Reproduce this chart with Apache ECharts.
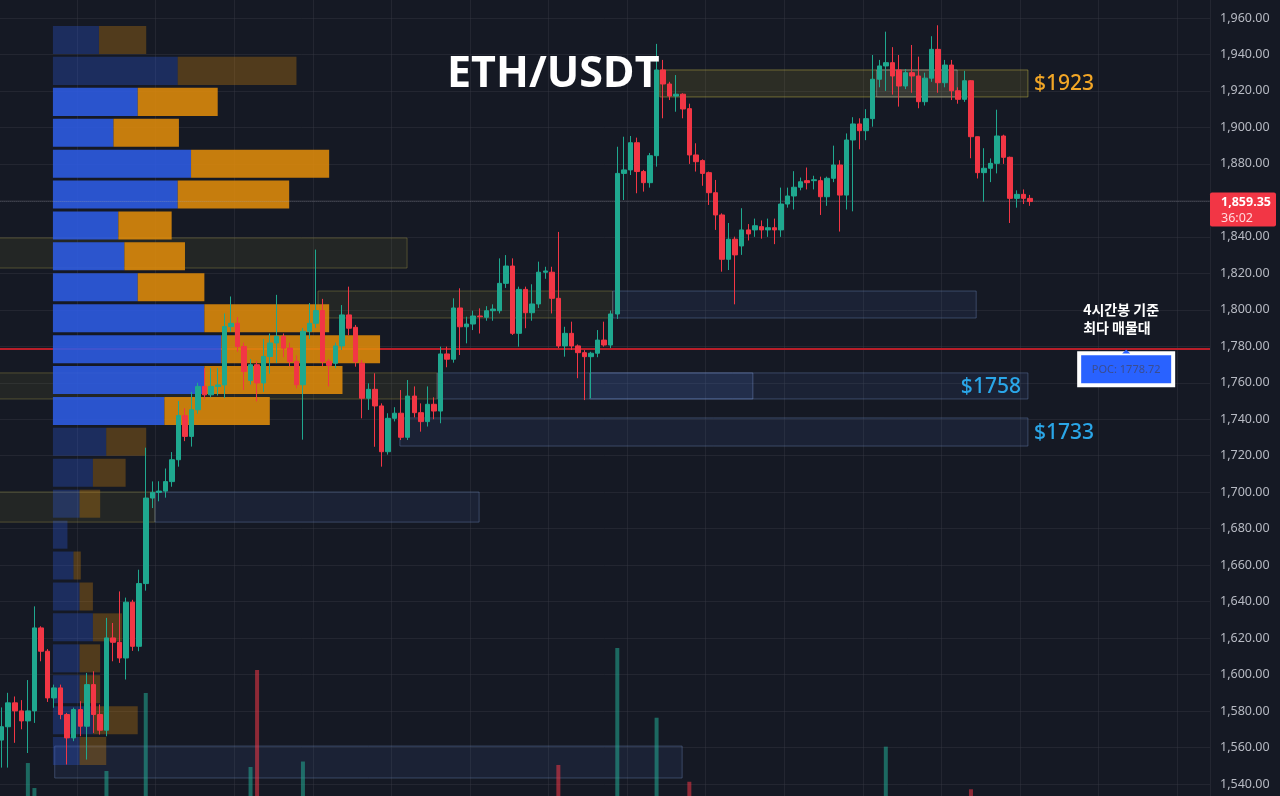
<!DOCTYPE html>
<html>
<head>
<meta charset="utf-8">
<title>ETH/USDT</title>
<script src="https://cdn.jsdelivr.net/npm/echarts/dist/echarts.min.js"></script>
<style>
html, body { margin: 0; padding: 0; background: #151924; }
#chart { width: 1280px; height: 796px; }
</style>
</head>
<body>
<div id="chart"></div>
<script>
// candles (oldest first)
var opens = [
  1564.1, 1571.4, 1584.5, 1580.1, 1574.6, 1580.1, 1625.6, 1612.8, 1587.2, 1592.7,
  1578.1, 1565.3, 1580.8, 1571.7, 1594.5, 1578.1, 1569.5, 1620.1, 1617.7, 1609.1,
  1639.7, 1615.5, 1649.9, 1696.8, 1699.9, 1700.6, 1705.8, 1717.8, 1742.0, 1730.6,
  1745.2, 1758.0, 1753.4, 1758.0, 1758.8, 1790.8, 1792.6, 1779.9, 1761.3, 1769.9,
  1759.9, 1774.4, 1781.8, 1785.4, 1779.0, 1771.7, 1758.9, 1788.2, 1792.6, 1799.6,
  1771.7, 1770.7, 1780.2, 1797.2, 1790.4, 1770.7, 1751.5, 1756.4, 1747.3, 1722.2,
  1740.5, 1743.3, 1730.1, 1752.7, 1743.6, 1738.7, 1748.2, 1744.5, 1775.8, 1772.9,
  1801.0, 1790.7, 1792.2, 1796.6, 1795.9, 1799.5, 1799.5, 1814.5, 1824.0, 1787.1,
  1811.2, 1798.4, 1803.2, 1820.6, 1820.6, 1806.3, 1780.2, 1787.1, 1780.2, 1776.5,
  1774.3, 1776.2, 1783.4, 1780.7, 1797.7, 1874.8, 1876.7, 1891.6, 1875.8, 1869.7,
  1884.5, 1931.5, 1923.8, 1917.2, 1918.2, 1910.3, 1884.9, 1881.8, 1875.2, 1864.2,
  1852.0, 1827.7, 1838.7, 1835.0, 1843.8, 1843.8, 1845.6, 1843.8, 1845.0, 1843.8,
  1858.0, 1862.4, 1867.2, 1870.8, 1870.8, 1870.8, 1862.0, 1872.1, 1879.4, 1862.9,
  1893.1, 1901.9, 1898.2, 1904.8, 1926.4, 1933.7, 1935.5, 1931.5, 1922.7, 1930.0,
  1928.2, 1914.1, 1927.0, 1942.8, 1924.5, 1934.2, 1920.1, 1915.4, 1925.6, 1894.9,
  1875.2, 1877.6, 1880.3, 1895.3, 1883.6, 1861.1, 1863.3, 1861.1
];
var closes = [
  1571.4, 1584.5, 1580.1, 1574.6, 1580.1, 1625.6, 1612.8, 1587.2, 1592.7, 1578.1,
  1565.3, 1580.8, 1571.7, 1594.5, 1578.1, 1569.5, 1620.1, 1617.7, 1609.1, 1639.7,
  1615.5, 1649.9, 1696.8, 1699.9, 1700.6, 1705.8, 1717.8, 1742.0, 1730.6, 1745.2,
  1758.0, 1753.4, 1758.0, 1758.8, 1790.8, 1792.6, 1779.9, 1766.2, 1769.9, 1759.9,
  1774.4, 1781.8, 1785.4, 1779.0, 1771.7, 1758.9, 1788.2, 1792.6, 1799.6, 1771.7,
  1769.5, 1780.2, 1797.2, 1789.9, 1771.5, 1751.5, 1756.4, 1747.3, 1722.2, 1740.5,
  1743.3, 1730.1, 1752.7, 1743.6, 1738.7, 1748.2, 1744.5, 1775.8, 1772.9, 1801.0,
  1790.7, 1792.2, 1796.6, 1796.2, 1799.5, 1800.4, 1814.5, 1824.0, 1787.1, 1811.2,
  1798.4, 1803.2, 1820.6, 1821.3, 1806.3, 1780.2, 1787.1, 1780.2, 1776.5, 1774.3,
  1776.2, 1783.4, 1780.7, 1797.7, 1874.8, 1876.7, 1891.6, 1875.8, 1869.7, 1884.5,
  1931.5, 1923.8, 1917.2, 1918.2, 1910.1, 1884.9, 1881.2, 1874.8, 1864.2, 1852.0,
  1827.7, 1838.7, 1830.1, 1843.8, 1841.6, 1846.1, 1843.8, 1845.0, 1843.8, 1858.0,
  1862.4, 1867.2, 1870.2, 1869.7, 1871.3, 1862.0, 1872.1, 1879.4, 1862.9, 1893.1,
  1901.9, 1898.2, 1904.8, 1926.4, 1933.7, 1935.5, 1928.2, 1922.7, 1930.0, 1928.2,
  1914.1, 1927.0, 1942.8, 1924.5, 1934.2, 1920.1, 1915.4, 1925.6, 1894.9, 1875.2,
  1877.6, 1880.3, 1895.3, 1883.6, 1861.1, 1863.3, 1861.1, 1859.35
];
var lows = [
  1549, 1549, 1562.6, 1570, 1557, 1573.5, 1607.3, 1585, 1581.8, 1575.5,
  1550.7, 1563.5, 1566.2, 1553.4, 1568, 1567.1, 1566.2, 1607.3, 1606.4, 1597.3,
  1613, 1612.8, 1646, 1691.3, 1695, 1697, 1703, 1714, 1728, 1725,
  1743, 1751, 1752, 1753, 1751.6, 1788, 1777, 1756, 1759, 1749.8,
  1755, 1765, 1770.8, 1774, 1769, 1757, 1728.8, 1784, 1790, 1769,
  1758, 1768, 1778, 1786, 1768.8, 1740.5, 1745.1, 1724.9, 1714, 1720.6,
  1738.8, 1728.6, 1728.6, 1741, 1733.2, 1736, 1740, 1737.8, 1768.5, 1771,
  1775.2, 1781.6, 1788.9, 1787, 1794, 1794, 1798, 1812, 1786.2, 1779.8,
  1789.9, 1794, 1801, 1817, 1798, 1779, 1774.3, 1778, 1762.5, 1750.5,
  1751.5, 1774, 1779.8, 1779, 1795, 1860.2, 1873.9, 1863.9, 1864.8, 1867,
  1878.5, 1905, 1915, 1908.6, 1905, 1880, 1875.8, 1868, 1857.5, 1843.8,
  1820.9, 1821.8, 1803, 1830.1, 1838, 1840, 1839, 1840, 1836, 1840,
  1856, 1855, 1865.5, 1866, 1866, 1852, 1857, 1870, 1842.9, 1855,
  1854, 1888, 1893, 1900.4, 1922, 1920, 1918, 1911.4, 1921, 1919,
  1910.5, 1912, 1925, 1919, 1922, 1915, 1913, 1914, 1883.1, 1872,
  1859.3, 1870, 1874.8, 1880, 1847.6, 1856, 1858, 1857
];
var highs = [
  1582, 1590, 1588, 1586, 1597, 1637.4, 1626.5, 1614, 1594.5, 1594.5,
  1579, 1581.9, 1585.4, 1600.9, 1601.8, 1583.6, 1631.1, 1628.3, 1645.6, 1642.2,
  1641, 1657.5, 1724.4, 1705.9, 1706, 1713, 1722, 1750, 1746, 1755,
  1760, 1768, 1768, 1768, 1798, 1807.3, 1796, 1782, 1773, 1772,
  1784, 1787, 1808.2, 1787, 1782, 1775, 1790, 1803.7, 1833, 1806,
  1773, 1782, 1802.6, 1812.7, 1791.7, 1772.5, 1759.7, 1765.2, 1748.7, 1743.3,
  1746.6, 1756, 1761.5, 1758, 1748.7, 1758, 1752, 1779.8, 1779.8, 1806.3,
  1811.8, 1796.2, 1799.5, 1800.8, 1802, 1803, 1828.2, 1830, 1828.2, 1812.7,
  1812.7, 1814, 1826.4, 1823.6, 1823.6, 1842.7, 1790.7, 1793.5, 1781, 1777.9,
  1777, 1788.9, 1793.5, 1799.6, 1889.4, 1894.9, 1895.3, 1894.4, 1876.7, 1886,
  1945.8, 1937, 1925, 1928.7, 1918.7, 1913, 1891.3, 1882.5, 1875.8, 1871.2,
  1852.9, 1847.6, 1840.1, 1855.7, 1847, 1850, 1849, 1850, 1850, 1867,
  1867, 1876, 1872.5, 1878, 1873.5, 1873, 1873, 1890, 1882, 1896.7,
  1905.6, 1905, 1910, 1939.7, 1937, 1952.5, 1944, 1939.7, 1932, 1945.2,
  1938.8, 1930, 1950, 1956, 1937, 1937, 1922, 1931, 1926, 1895,
  1888.6, 1883, 1909.7, 1896, 1884, 1865.5, 1866, 1863
];

// only the tallest volume bars reach into view
var volumeAt = [4, 5, 16, 22, 38, 39, 46, 85, 94, 100, 105, 135, 148];
var volumeValue = [68.5, 38.7, 59, 152, 63.8, 179.4, 70.3, 66.2, 205.6, 122.5, 46.2, 88, 37.2];

// volume profile rows (row centre price, buy volume, sell volume)
var profilePrice = [1947.9, 1931.0, 1914.0, 1897.1, 1880.1, 1863.2, 1846.2, 1829.3, 1812.3, 1795.4, 1778.4, 1761.5,
                    1744.5, 1727.6, 1710.6, 1693.7, 1676.7, 1659.8, 1642.8, 1625.9, 1608.9, 1592.0, 1575.0, 1558.1];
var profileBuy = [38, 103, 70, 50, 114, 103, 54, 59, 70, 125, 139, 125, 92, 44, 33, 22, 12, 17, 22, 33, 22, 22, 33, 22];
var profileSell = [39, 98, 66, 54, 114, 92, 44, 50, 55, 103, 131, 114, 87, 33, 27, 17, 0, 6, 11, 24, 17, 17, 37, 22];
var valueAreaHigh = 1914.0;
var valueAreaLow = 1744.5;
var profileStep = 16.95;

// zones: candle index range and price range
var zoneFrom = [100.5, 133.6, -0.5, 48.3, 93.3, -0.5, 66.5, 89.8, 60.8, -0.5, 23.4, 8.1];
var zoneTo = [156.7, 145.9, 61.9, 93.3, 148.8, 66.5, 156.7, 114.7, 156.7, 23.4, 72.9, 103.9];
var zoneHigh = [1931.5, 1931.5, 1839.4, 1810.3, 1810.3, 1765.4, 1765.4, 1765.4, 1740.7, 1700.1, 1700.1, 1560.8];
var zoneLow = [1916.7, 1916.7, 1822.9, 1795.5, 1795.5, 1751.1, 1751.1, 1751.1, 1725.3, 1683.6, 1683.6, 1543.3];
var zoneKind = ['gold', 'light', 'olive', 'olive', 'blue', 'olive', 'blue', 'lightBlue', 'blue', 'olive', 'blue', 'blue'];
var zoneLabel = ['$1923', '', '', '', '', '', '$1758', '', '$1733', '', '', ''];

var pocPrice = 1778.72;
var lastPrice = 1859.35;
var countdown = '36:02';
var yTicks = [1540, 1960];

var zoneStyle = {
  gold: { fill: 'rgba(160,150,50,0.17)', stroke: 'rgba(190,178,70,0.5)', label: '#f2a626' },
  light: { fill: 'rgba(170,175,195,0.10)', stroke: 'rgba(200,200,215,0.35)' },
  olive: { fill: 'rgba(140,140,50,0.12)', stroke: 'rgba(160,150,70,0.4)' },
  blue: { fill: 'rgba(70,100,170,0.13)', stroke: 'rgba(100,125,170,0.45)', label: '#2aa6e8' },
  lightBlue: { fill: 'rgba(80,120,210,0.14)', stroke: 'rgba(120,145,200,0.45)' }
};
var labelInside = { '$1758': true };

var upColor = '#1fa88f';
var downColor = '#f23645';

var slots = 185;
var categories = [];
for (var i = 0; i < slots; i++) categories.push(String(i));

var candleData = opens.map(function (o, i) { return [o, closes[i], lows[i], highs[i]]; });

var volumeData = categories.map(function () { return '-'; });
volumeAt.forEach(function (idx, k) {
  volumeData[idx] = {
    value: volumeValue[k],
    itemStyle: { color: closes[idx] >= opens[idx] ? 'rgba(34,171,148,0.55)' : 'rgba(242,54,69,0.55)' }
  };
});

var zoneData = zoneFrom.map(function (f, i) { return [f, zoneTo[i], zoneHigh[i], zoneLow[i]]; });
var profileData = profilePrice.map(function (p, i) { return [p, profileBuy[i], profileSell[i]]; });

function renderZone(params, api) {
  var a = api.coord([api.value(0), api.value(2)]);
  var b = api.coord([api.value(1), api.value(3)]);
  var st = zoneStyle[zoneKind[params.dataIndex]];
  var children = [{
    type: 'rect',
    shape: { x: a[0], y: a[1], width: b[0] - a[0], height: b[1] - a[1] },
    style: { fill: st.fill, stroke: st.stroke, lineWidth: 1 }
  }];
  var lab = zoneLabel[params.dataIndex];
  if (lab) {
    var inside = labelInside[lab];
    children.push({
      type: 'text',
      x: inside ? b[0] - 7 : b[0] + 6,
      y: (a[1] + b[1]) / 2 + 1,
      style: {
        text: lab, fill: st.label, fontSize: 21, fontWeight: 500, fontFamily: 'Noto Sans',
        align: inside ? 'right' : 'left', verticalAlign: 'middle'
      }
    });
  }
  return { type: 'group', children: children };
}

function renderProfile(params, api) {
  var c = api.value(0), buy = api.value(1), sell = api.value(2);
  var h = api.size([0, profileStep])[1] * 0.906;
  var p0 = api.coord([0, c]);
  var p1 = api.coord([buy, c]);
  var p2 = api.coord([buy + sell, c]);
  var inVA = c <= valueAreaHigh && c >= valueAreaLow;
  var op = inVA ? 0.88 : 0.3;
  return {
    type: 'group',
    children: [
      { type: 'rect', shape: { x: p0[0], y: p0[1] - h / 2, width: p1[0] - p0[0], height: h },
        style: { fill: '#2e5ce5', opacity: op } },
      { type: 'rect', shape: { x: p1[0], y: p0[1] - h / 2, width: p2[0] - p1[0], height: h },
        style: { fill: '#df8b0a', opacity: op } }
    ]
  };
}

var chart = echarts.init(document.getElementById('chart'));

var option = {
  backgroundColor: '#151924',
  animation: false,
  title: {
    text: 'ETH/USDT',
    left: 447,
    top: 53,
    padding: 0,
    textStyle: { color: '#ffffff', fontSize: 43, fontWeight: 'bold', fontFamily: 'Open Sans', lineHeight: 43 }
  },
  grid: { left: -1.6, right: 70, top: -18.5, bottom: -24.5, containLabel: false, outerBoundsMode: 'none' },
  xAxis: [
    {
      type: 'category', data: categories, boundaryGap: true,
      axisLine: { show: false }, axisTick: { show: false }, axisLabel: { show: false },
      splitLine: { show: true, interval: 11, lineStyle: { color: 'rgba(54,58,69,0.42)', width: 1 } }
    },
    { type: 'value', min: -0.5, max: slots - 0.5, show: false },
    { type: 'value', min: -45, max: 955, show: false }
  ],
  yAxis: [
    {
      type: 'value', position: 'right', min: 1520, max: 1980, interval: 20, scale: true,
      axisLine: { show: false }, axisTick: { show: false },
      axisLabel: {
        color: '#b7bac3', fontSize: 12.5, fontFamily: 'Noto Sans', margin: 10,
        formatter: function (v) {
          if (v < yTicks[0] || v > yTicks[1]) return '';
          return v.toLocaleString('en-US', { minimumFractionDigits: 2, maximumFractionDigits: 2 });
        }
      },
      splitLine: { show: true, lineStyle: { color: 'rgba(54,58,69,0.42)', width: 1 } }
    },
    { type: 'value', min: 0, max: 1000, show: false }
  ],
  series: [
    {
      name: 'zones', type: 'custom', xAxisIndex: 1, yAxisIndex: 0, z: 1,
      renderItem: renderZone, data: zoneData, silent: true,
      markLine: {
        silent: true, z: 2, symbol: ['none', 'none'], label: { show: false },
        data: [{ yAxis: pocPrice, lineStyle: { color: '#b81e29', width: 2, type: 'solid' } }]
      }
    },
    {
      name: 'volume', type: 'bar', xAxisIndex: 0, yAxisIndex: 1, z: 2,
      barWidth: 4, data: volumeData, silent: true
    },
    {
      name: 'profile', type: 'custom', xAxisIndex: 2, yAxisIndex: 0, z: 3,
      renderItem: renderProfile, data: profileData, silent: true
    },
    {
      name: 'ETH/USDT', type: 'candlestick', xAxisIndex: 0, yAxisIndex: 0, z: 5,
      barWidth: 5, data: candleData,
      itemStyle: { color: upColor, color0: downColor, borderColor: upColor, borderColor0: downColor, borderWidth: 1 },
      markLine: {
        silent: true, z: 4, symbol: ['none', 'none'], label: { show: false },
        data: [{ yAxis: lastPrice, lineStyle: { color: 'rgba(170,170,185,0.45)', width: 1, type: 'dotted' } }]
      }
    }
  ]
};

chart.setOption(option);

var yPoc = chart.convertToPixel({ yAxisIndex: 0 }, pocPrice);
var xPoc = chart.convertToPixel({ xAxisIndex: 1 }, 171.7);
var yLast = chart.convertToPixel({ yAxisIndex: 0 }, lastPrice);
var xEdge = chart.convertToPixel({ xAxisIndex: 1 }, slots - 0.5);

chart.setOption({
  graphic: [
    { type: 'rect', z: 100, shape: { x: xEdge, y: yLast - 9, width: 66, height: 34, r: 2 },
      style: { fill: '#f23645' } },
    { type: 'text', z: 101, x: xEdge + 11, y: yLast + 0.5,
      style: { text: lastPrice.toLocaleString('en-US', { minimumFractionDigits: 2 }), fill: '#ffffff',
               fontSize: 12.5, fontWeight: 'bold', fontFamily: 'Noto Sans', verticalAlign: 'middle' } },
    { type: 'text', z: 101, x: xEdge + 11, y: yLast + 16.5,
      style: { text: countdown, fill: '#ffd9dc', fontSize: 12.5, fontFamily: 'Noto Sans', verticalAlign: 'middle' } },
    { type: 'rect', z: 100, shape: { x: xPoc - 47, y: yPoc + 4.7, width: 94, height: 32 },
      style: { fill: '#2962ff', stroke: '#ffffff', lineWidth: 4 } },
    { type: 'polygon', z: 101, shape: { points: [[xPoc - 4, yPoc + 5], [xPoc + 4, yPoc + 5], [xPoc, yPoc + 1]] },
      style: { fill: '#2962ff' } },
    { type: 'text', z: 101, x: xPoc, y: yPoc + 21,
      style: { text: 'POC: ' + pocPrice.toFixed(2), fill: '#3b4d8f', fontSize: 11, fontFamily: 'Noto Sans',
               align: 'center', verticalAlign: 'middle' } },
    { type: 'text', z: 101, x: xPoc - 43, y: yPoc - 39,
      style: { text: '4시간봉 기준', fill: '#ffffff', fontSize: 14, fontWeight: 'bold',
               fontFamily: 'Noto Sans CJK KR', verticalAlign: 'middle' } },
    { type: 'text', z: 101, x: xPoc - 43, y: yPoc - 21,
      style: { text: '최다 매물대', fill: '#ffffff', fontSize: 14, fontWeight: 'bold',
               fontFamily: 'Noto Sans CJK KR', verticalAlign: 'middle' } }
  ]
});
</script>
</body>
</html>
